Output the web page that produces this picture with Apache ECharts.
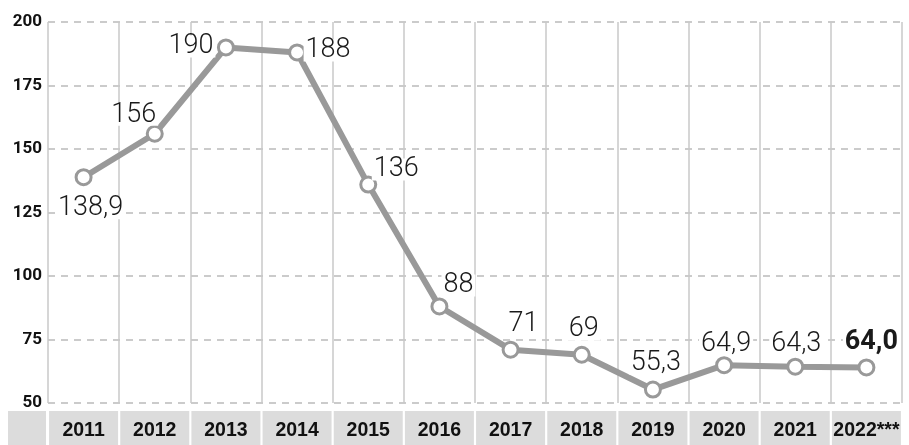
<!DOCTYPE html>
<html><head><meta charset="utf-8">
<script src="https://cdn.jsdelivr.net/npm/echarts@6/dist/echarts.min.js"></script>
<style>html,body{margin:0;padding:0;background:#fff}#c{width:909px;height:445px}</style>
</head><body><div id="c"></div>
<script>
const categories = ['2011','2012','2013','2014','2015','2016','2017','2018','2019','2020','2021','2022***'];
const values = [138.9,156,190,188,136,88,71,69,55.3,64.9,64.3,64.0];
const valueLabels = ['138,9','156','190','188','136','88','71','69','55,3','64,9','64,3','64,0'];
const yTicks = [50,75,100,125,150,175,200];

const labelOffsets = [[7,31],[-21,-19],[-35,-1],[31,-2],[28,-15],[19,-21],[13,-25],[2,-25],[3,-26],[2,-21],[1,-22],[5,-25]];

const chart = echarts.init(document.getElementById('c'));
const data = values.map((v,i)=>({
  value: v,
  label: {
    show: true,
    position: 'inside',
    offset: labelOffsets[i],
    formatter: valueLabels[i],
    fontFamily: 'Roboto, sans-serif',
    fontSize: 27,
    lineHeight: 22,
    fontWeight: i===11 ? 'bold' : 300,
    color: '#1a1a1a',
    backgroundColor: '#fff',
    padding: [0,2]
  }
}));
chart.setOption({
  animation: false,
  backgroundColor: '#fff',
  graphic: [{type:'rect', shape:{x:8,y:411,width:38,height:34}, style:{fill:'#dcdcdc'}, z:-1}],
  grid: {left: 48, right: 7, top: 22, bottom: 42},
  xAxis: {
    type: 'category', data: categories, boundaryGap: true,
    axisLine: {show:false}, axisTick: {show:false},
    splitLine: {show:true, interval:0, lineStyle:{color:'#c8c8c8', width:1.5}},
    axisLabel: {
      interval: 0, margin: 8,
      fontFamily: '"Liberation Sans", Arial, sans-serif',
      fontWeight: 'bold', fontSize: 19.5, color: '#111',
      backgroundColor: '#dcdcdc', width: 69, height: 34, lineHeight: 40,
      align: 'center', verticalAlign: 'top'
    }
  },
  yAxis: {
    type: 'value', min: 50, max: 200, interval: 25,
    axisLine: {show:false}, axisTick: {show:false},
    splitLine: {show:true, lineStyle:{color:'#bbbbbb', width:1.5, type:[7,6]}},
    axisLabel: {
      margin: 6,
      fontFamily: 'Roboto, sans-serif', fontWeight: 'bold', fontSize: 17, color: '#111',
      formatter: v => yTicks.includes(v) ? String(v) : ''
    }
  },
  series: [{
    type: 'line', data: data,
    lineStyle: {color:'#999', width: 6},
    symbol: 'circle', symbolSize: 15,
    itemStyle: {color:'#fff', borderColor:'#999', borderWidth: 3},
    z: 5
  }]
});
</script></body></html>
